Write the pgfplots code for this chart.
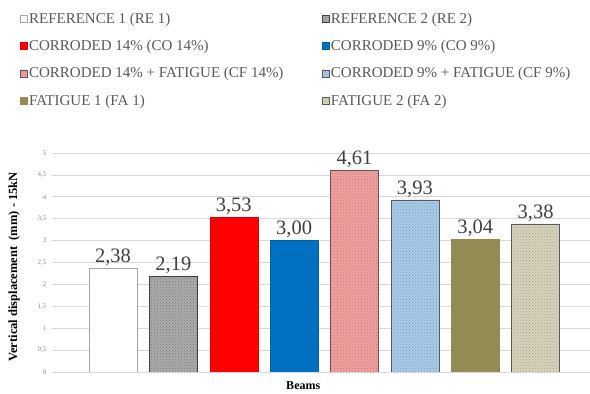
\documentclass[border=0pt]{standalone}
\usepackage{pgfplots}
\pgfplotsset{compat=1.18}
\usepackage{fontspec}
\setmainfont{Liberation Serif}
\usetikzlibrary{patterns}

\definecolor{gridgray}{HTML}{D9D9D9}
\definecolor{tickgray}{HTML}{8C8C8C}
\definecolor{lblgray}{HTML}{404040}
\definecolor{leggray}{HTML}{595959}
\definecolor{cored}{HTML}{FF0000}
\definecolor{coblue}{HTML}{0070C0}
\definecolor{cfpink}{HTML}{F4A0A0}
\definecolor{cfblue}{HTML}{A8CCEC}
\definecolor{faolive}{HTML}{948A54}
\definecolor{fabeige}{HTML}{D8D4BC}

\begin{document}
\begin{tikzpicture}
\useasboundingbox (0,0) rectangle (590pt,394pt);
\begin{axis}[
  at={(52pt,22pt)}, anchor=south west,
  scale only axis, width=538pt, height=219pt,
  xmin=-1.01, xmax=7.9, ymin=0, ymax=5,
  ybar, bar width=48pt, bar shift=0pt,
  axis line style={draw=none},
  xtick=\empty,
  ytick={0,0.5,1,1.5,2,2.5,3,3.5,4,4.5,5},
  major tick length=0pt,
  ymajorgrids, grid style={gridgray, line width=0.8pt},
  /pgf/number format/assume math mode=true,
  /pgf/number format/use comma,
  yticklabel style={font=\fontsize{7}{8}\selectfont, text=tickgray, xshift=-2pt},
  nodes near coords={\pgfmathprintnumber[fixed,fixed zerofill,precision=2,use comma]{\pgfplotspointmeta}},
  nodes near coords style={font=\fontsize{20.5}{22}\selectfont, text=lblgray, anchor=south, yshift=-1pt},
  xlabel={\bfseries Beams},
  xlabel style={at={(axis description cs:0.467,-0.064)}, anchor=center, font=\fontsize{12}{14}\selectfont},
  ylabel={\bfseries Vertical displacement\ \ (mm) - 15kN},
  ylabel style={at={(axis description cs:-0.0706,0.48)}, anchor=center, rotate=0, font=\fontsize{12.5}{14}\selectfont},
  legend columns=2,
  legend cell align=left,
  legend image code/.code={\draw[#1] (0pt,-3.5pt) rectangle (7pt,3.5pt);},
  legend style={draw=none, fill=none, at={(axis description cs:-0.066,1.66)}, anchor=north west,
    font=\fontsize{15}{17}\selectfont, text=leggray, row sep=11.5pt,
    /tikz/every even column/.append style={column sep=36pt},
    /tikz/every odd column/.append style={column sep=0pt}},
]
\addplot[draw=gray!70, fill=white] coordinates {(0,2.38)};
\addlegendentry{REFERENCE 1 (RE 1)}
\addplot[draw=black!75, fill=gray!65, postaction={pattern=crosshatch dots, pattern color=black!55}] coordinates {(1,2.19)};
\addlegendentry{REFERENCE 2 (RE 2)}
\addplot[draw=cored!85!black, fill=cored] coordinates {(2,3.53)};
\addlegendentry{CORRODED 14\% (CO 14\%)}
\addplot[draw=coblue!85!black, fill=coblue] coordinates {(3,3.00)};
\addlegendentry{CORRODED 9\% (CO 9\%)}
\addplot[draw=black!65, fill=cfpink, postaction={pattern=crosshatch dots, pattern color=cfpink!75!black}] coordinates {(4,4.61)};
\addlegendentry{CORRODED 14\% + FATIGUE (CF 14\%)}
\addplot[draw=black!65, fill=cfblue, postaction={pattern=crosshatch dots, pattern color=cfblue!75!black}] coordinates {(5,3.93)};
\addlegendentry{CORRODED 9\% + FATIGUE (CF 9\%)}
\addplot[draw=faolive, fill=faolive] coordinates {(6,3.04)};
\addlegendentry{FATIGUE 1 (FA 1)}
\addplot[draw=black!65, fill=fabeige, postaction={pattern=crosshatch dots, pattern color=fabeige!75!black}] coordinates {(7,3.38)};
\addlegendentry{FATIGUE 2 (FA 2)}
\end{axis}
\end{tikzpicture}
\end{document}
